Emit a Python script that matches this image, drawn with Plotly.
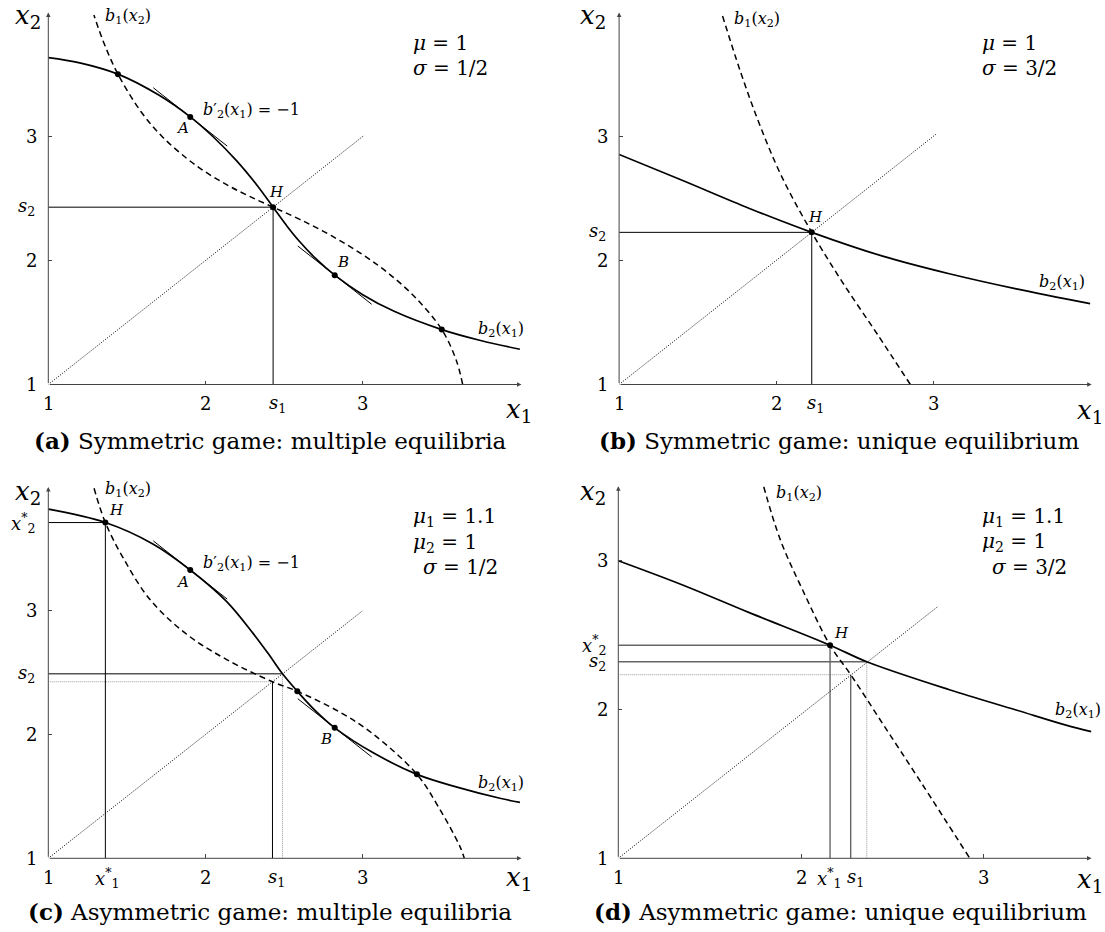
import plotly.graph_objects as go

W, H = 1105, 932
FONT = "DejaVu Serif"

# ---------------- values ----------------
# (a) Symmetric game, multiple equilibria  (mu = 1, sigma = 1/2)
a_b2_x1 = [1.0, 1.2, 1.443, 1.7, 1.903, 2.05, 2.2, 2.33, 2.43, 2.52, 2.6, 2.7, 2.822, 3.0, 3.2, 3.503, 3.75, 4.0]
a_b2_x2 = [3.636, 3.594, 3.503, 3.336, 3.158, 2.996, 2.801, 2.603, 2.43, 2.275, 2.151, 2.017, 1.882, 1.724, 1.59, 1.443, 1.355, 1.284]
a_b1_x2 = [1.0, 1.2, 1.443, 1.7, 1.903, 2.05, 2.2, 2.33, 2.43, 2.52, 2.6, 2.7, 2.822, 3.0, 3.2, 3.503, 3.75, 3.98]
a_b1_x1 = [3.636, 3.594, 3.503, 3.336, 3.158, 2.996, 2.801, 2.603, 2.43, 2.275, 2.151, 2.017, 1.882, 1.724, 1.59, 1.443, 1.355, 1.29]
a_eq_x1 = [1.443, 2.43, 3.503]
a_eq_x2 = [3.503, 2.43, 1.443]
a_AB_x1 = [1.903, 2.822]
a_AB_x2 = [3.158, 1.882]
a_H = [2.43, 2.43]
a_diag = [1.0, 3.01]

# (b) Symmetric game, unique equilibrium  (mu = 1, sigma = 3/2)
b_b2_x1 = [1.0, 1.405, 1.83, 2.227, 2.679, 3.103, 3.53, 4.0]
b_b2_x2 = [2.855, 2.645, 2.42, 2.227, 2.035, 1.893, 1.771, 1.652]
b_b1_x2 = [1.0, 1.405, 1.83, 2.227, 2.679, 3.103, 3.53, 3.98]
b_b1_x1 = [2.855, 2.645, 2.42, 2.227, 2.035, 1.893, 1.771, 1.657]
b_H = [2.227, 2.227]
b_diag = [1.0, 3.02]

# (c) Asymmetric game, multiple equilibria  (mu1 = 1.1, mu2 = 1, sigma = 1/2)
c_b2_x1 = [1.0, 1.363, 1.668, 1.903, 2.135, 2.304, 2.4, 2.49, 2.584, 2.7, 2.822, 3.07, 3.345, 3.6, 3.873, 4.0]
c_b2_x2 = [3.82, 3.712, 3.537, 3.329, 3.074, 2.815, 2.652, 2.49, 2.349, 2.191, 2.054, 1.85, 1.678, 1.575, 1.485, 1.452]
c_b1_x1 = [1.291, 1.363, 1.477, 1.647, 1.88, 2.135, 2.426, 2.584, 2.856, 3.067, 3.345, 3.481, 3.619, 3.646]
c_b1_x2 = [3.989, 3.712, 3.425, 3.09, 2.81, 2.605, 2.426, 2.349, 2.18, 2.003, 1.678, 1.417, 1.094, 1.0]
c_eq_x1 = [1.363, 2.584, 3.345]
c_eq_x2 = [3.712, 2.349, 1.678]
c_AB_x1 = [1.903, 2.822]
c_AB_x2 = [3.329, 2.054]
c_H = [1.363, 3.712]
c_s1 = [2.426, 2.426]
c_s2 = [2.49, 2.49]
c_diag = [1.0, 3.0]

# (d) Asymmetric game, unique equilibrium  (mu1 = 1.1, mu2 = 1, sigma = 3/2)
d_b2_x1 = [1.0, 1.352, 1.717, 2.159, 2.36, 2.812, 3.177, 3.45, 3.589]
d_b2_x2 = [3.0, 2.837, 2.651, 2.432, 2.321, 2.133, 1.997, 1.895, 1.851]
d_b1_x1 = [1.796, 1.887, 2.009, 2.159, 2.272, 2.447, 2.657, 2.924]
d_b1_x2 = [3.497, 3.14, 2.803, 2.432, 2.234, 1.905, 1.51, 1.0]
d_H = [2.159, 2.432]
d_s1 = [2.272, 2.234]
d_s2 = [2.36, 2.321]
d_diag_x1 = [1.0, 2.748]
d_diag_x2 = [1.0, 2.691]

tick_vals = [2, 3]
tangent_slope = -1.0  # b2'(x1) = -1 at A and B

# ---------------- geometry (pixels) ----------------
geo = {
    "a": dict(xa="x", ya="y", px0=48.3, ux=157.2, py0=384.5, uy=124.0, xmax=4.01, ymax=4.0),
    "b": dict(xa="x2", ya="y2", px0=619.1, ux=157.0, py0=384.5, uy=124.0, xmax=4.01, ymax=4.0),
    "c": dict(xa="x3", ya="y3", px0=48.3, ux=157.2, py0=858.3, uy=123.8, xmax=4.01, ymax=4.0),
    "d": dict(xa="x4", ya="y4", px0=618.3, ux=182.7, py0=858.3, uy=148.8, xmax=3.59, ymax=3.5),
}

fig = go.Figure()
ann = []


def line(p, xs, ys, color="black", width=1.0, dash="solid", shape="linear"):
    g = geo[p]
    fig.add_trace(go.Scatter(x=xs, y=ys, mode="lines",
                             line=dict(color=color, width=width, dash=dash, shape=shape, smoothing=1.0),
                             xaxis=g["xa"], yaxis=g["ya"], hoverinfo="skip", showlegend=False))


def dots(p, xs, ys):
    g = geo[p]
    fig.add_trace(go.Scatter(x=xs, y=ys, mode="markers", marker=dict(color="black", size=6),
                             xaxis=g["xa"], yaxis=g["ya"], hoverinfo="skip", showlegend=False))


def txt(text, px, py, size, xanchor="center", yanchor="middle"):
    ann.append(dict(text=text, x=px / W, y=1 - py / H, xref="paper", yref="paper", showarrow=False,
                    xanchor=xanchor, yanchor=yanchor, font=dict(family=FONT, size=size, color="black")))


def xtick(p, val, text, py, size=18, shift=0):
    g = geo[p]
    ann.append(dict(text=text, x=val, xref=g["xa"], y=1 - py / H, yref="paper", showarrow=False,
                    xanchor="center", yanchor="middle", xshift=shift,
                    font=dict(family=FONT, size=size, color="black")))


def ytick(p, val, text, px, size=18):
    g = geo[p]
    ann.append(dict(text=text, y=val, yref=g["ya"], x=px / W, xref="paper", showarrow=False,
                    xanchor="right", yanchor="middle",
                    font=dict(family=FONT, size=size, color="black")))


def axes_arrows(p):
    g = geo[p]
    for (x, y) in [(g["xmax"], 1.0), (1.0, g["ymax"])]:
        ann.append(dict(x=x, y=y, ax=1.0, ay=1.0, xref=g["xa"], yref=g["ya"], axref=g["xa"], ayref=g["ya"],
                        showarrow=True, arrowhead=2, arrowsize=0.9, arrowwidth=1.0, arrowcolor="#444",
                        text="", standoff=0))


def tangent(p, x0, y0, half=0.235, width=1.0):
    line(p, [x0 - half, x0 + half], [y0 - tangent_slope * half, y0 + tangent_slope * half], width=width)


DOT = "1px,1.5px"
DASH = "6px,4px"
GUIDE_DOT = "1px,1px"

# ----- panel (a)
line("a", [1, a_H[0]], [a_H[1], a_H[1]], width=1)
line("a", [a_H[0], a_H[0]], [1, a_H[1]], width=1)
line("a", a_diag, a_diag, width=1, dash=DOT)
line("a", a_b1_x1, a_b1_x2, width=1.5, dash=DASH, shape="spline")
line("a", a_b2_x1, a_b2_x2, width=1.7, shape="spline")
for i in range(2):
    tangent("a", a_AB_x1[i], a_AB_x2[i])
dots("a", a_eq_x1 + a_AB_x1, a_eq_x2 + a_AB_x2)

# ----- panel (b)
line("b", [1, b_H[0]], [b_H[1], b_H[1]], width=1)
line("b", [b_H[0], b_H[0]], [1, b_H[1]], width=1)
line("b", b_diag, b_diag, width=1, dash=DOT)
line("b", b_b1_x1, b_b1_x2, width=1.5, dash=DASH, shape="spline")
line("b", b_b2_x1, b_b2_x2, width=1.7, shape="spline")
dots("b", [b_H[0]], [b_H[1]])

# ----- panel (c)
line("c", [1, c_s1[0]], [c_s1[1], c_s1[1]], color="#999999", width=1, dash=GUIDE_DOT)
line("c", [c_s2[0], c_s2[0]], [1, c_s2[1]], color="#999999", width=1, dash=GUIDE_DOT)
line("c", [1, c_H[0]], [c_H[1], c_H[1]], width=1)
line("c", [c_H[0], c_H[0]], [1, c_H[1]], width=1)
line("c", [1, c_s2[0]], [c_s2[1], c_s2[1]], width=1)
line("c", [c_s1[0], c_s1[0]], [1, c_s1[1]], width=1)
line("c", c_diag, c_diag, width=1, dash=DOT)
line("c", c_b1_x1, c_b1_x2, width=1.5, dash=DASH, shape="spline")
line("c", c_b2_x1, c_b2_x2, width=1.7, shape="spline")
for i in range(2):
    tangent("c", c_AB_x1[i], c_AB_x2[i])
dots("c", c_eq_x1 + c_AB_x1, c_eq_x2 + c_AB_x2)

# ----- panel (d)
line("d", [1, d_s1[0]], [d_s1[1], d_s1[1]], color="#999999", width=1, dash=GUIDE_DOT)
line("d", [d_s2[0], d_s2[0]], [1, d_s2[1]], color="#999999", width=1, dash=GUIDE_DOT)
line("d", [1, d_H[0]], [d_H[1], d_H[1]], color="#666666", width=1.4)
line("d", [d_H[0], d_H[0]], [1, d_H[1]], color="#666666", width=1.4)
line("d", [1, d_s2[0]], [d_s2[1], d_s2[1]], color="#666666", width=1.4)
line("d", [d_s1[0], d_s1[0]], [1, d_s1[1]], color="#666666", width=1.4)
line("d", d_diag_x1, d_diag_x2, width=1, dash=DOT)
line("d", d_b1_x1, d_b1_x2, width=1.5, dash=DASH, shape="spline")
line("d", d_b2_x1, d_b2_x2, width=1.7, shape="spline")
dots("d", [d_H[0]], [d_H[1]])

for p in "abcd":
    axes_arrows(p)

# ----- tick labels
S1 = "<i>s</i><sub>1</sub>"
S2 = "<i>s</i><sub>2</sub>"
X1S = "<i>x</i><sup>*</sup><sub>1</sub>"
X2S = "<i>x</i><sup>*</sup><sub>2</sub>"

for p in ("a", "b"):
    for v in tick_vals:
        xtick(p, v, str(v), 403)
    xtick(p, 1, "1", 403)
xtick("a", a_H[0], S1, 404, shift=4)
xtick("b", b_H[0], S1, 404, shift=4)
for p in ("c", "d"):
    for v in tick_vals:
        xtick(p, v, str(v), 877)
    xtick(p, 1, "1", 877)
xtick("c", c_H[0], X1S, 878, shift=2)
xtick("c", c_s1[0], S1, 878, shift=4)
xtick("d", d_H[0], X1S, 878, shift=-1)
xtick("d", d_s1[0], S1, 878, shift=5)

for p, ax in (("a", 39), ("b", 610), ("c", 39), ("d", 610)):
    for v in [1] + tick_vals:
        ytick(p, v, str(v), ax)
ytick("a", a_H[1], S2, 37)
ytick("b", b_H[1], S2, 608)
ytick("c", c_H[1], X2S, 37)
ytick("c", c_s2[1], S2, 37)
ytick("d", d_H[1], X2S, 608)
ytick("d", d_s2[1], S2, 608)

# ----- axis titles
AX = 26
for (cx, ty, bx, by) in ((28, 16, 519, 410), (593, 16, 1090, 411), (28, 492, 519, 878), (593, 492, 1090, 880)):
    txt("<i>x</i><sub>2</sub>", cx, ty, AX)
    txt("<i>x</i><sub>1</sub>", bx, by, AX)

# ----- small curve labels
SM = 16
LB = 15
B1 = "<i>b</i><sub>1</sub>(<i>x</i><sub>2</sub>)"
B2 = "<i>b</i><sub>2</sub>(<i>x</i><sub>1</sub>)"
BP = "<i>b</i>′<sub>2</sub>(<i>x</i><sub>1</sub>) = −1"
txt(B1, 103, 16, SM, xanchor="left")
txt(B2, 476, 329, SM, xanchor="left")
txt(BP, 201, 110, SM, xanchor="left")
txt("<i>A</i>", 182, 128, LB)
txt("<i>B</i>", 343, 262, LB)
txt("<i>H</i>", 276, 192, LB)

txt(B1, 732, 19, SM, xanchor="left")
txt(B2, 1037, 282, SM, xanchor="left")
txt("<i>H</i>", 815, 217, LB)

txt(B1, 103, 490, SM, xanchor="left")
txt(B2, 476, 783, SM, xanchor="left")
txt(BP, 201, 563, SM, xanchor="left")
txt("<i>A</i>", 182, 582, LB)
txt("<i>B</i>", 326, 739, LB)
txt("<i>H</i>", 116, 510, LB)

txt(B1, 774, 493, SM, xanchor="left")
txt(B2, 1103, 710, SM, xanchor="right")
txt("<i>H</i>", 841, 633, LB)

# ----- parameter boxes
PS = 20
txt("<i>μ</i> = 1", 411, 43, PS, xanchor="left")
txt("<i>σ</i> = 1/2", 411, 68, PS, xanchor="left")
txt("<i>μ</i> = 1", 980, 43, PS, xanchor="left")
txt("<i>σ</i> = 3/2", 980, 68, PS, xanchor="left")
txt("<i>μ</i><sub>1</sub> = 1.1", 411, 517, PS, xanchor="left")
txt("<i>μ</i><sub>2</sub> = 1", 411, 543, PS, xanchor="left")
txt("<i>σ</i> = 1/2", 421, 567, PS, xanchor="left")
txt("<i>μ</i><sub>1</sub> = 1.1", 980, 517, PS, xanchor="left")
txt("<i>μ</i><sub>2</sub> = 1", 980, 542, PS, xanchor="left")
txt("<i>σ</i> = 3/2", 990, 567, PS, xanchor="left")

# ----- captions
CS = 23
txt("<b>(a)</b> Symmetric game: multiple equilibria", 270, 440, CS)
txt("<b>(b)</b> Symmetric game: unique equilibrium", 839, 440, CS)
txt("<b>(c)</b> Asymmetric game: multiple equilibria", 270, 911, CS)
txt("<b>(d)</b> Asymmetric game: unique equilibrium", 840, 911, CS)

# ----- axes layout
layout_axes = {}
for p, g in geo.items():
    x_end = g["px0"] + g["ux"] * (g["xmax"] - 1)
    y_top = g["py0"] - g["uy"] * (g["ymax"] - 1)
    xkey = "xaxis" + g["xa"][1:]
    ykey = "yaxis" + g["ya"][1:]
    common = dict(showgrid=False, zeroline=False, showline=False, ticks="inside", ticklen=4, tickwidth=1,
                  tickcolor="#444", tickvals=tick_vals, showticklabels=False, fixedrange=True)
    layout_axes[xkey] = dict(domain=[g["px0"] / W, x_end / W], range=[1, g["xmax"]], anchor=g["ya"], **common)
    layout_axes[ykey] = dict(domain=[(H - g["py0"]) / H, (H - y_top) / H], range=[1, g["ymax"]],
                             anchor=g["xa"], **common)

fig.update_layout(width=W, height=H, margin=dict(l=0, r=0, t=0, b=0), plot_bgcolor="white",
                  paper_bgcolor="white", showlegend=False, annotations=ann, hovermode=False, **layout_axes)

fig.write_html("out.html", config={"displayModeBar": False, "staticPlot": True},
               post_script="document.body.style.margin='0px';document.body.style.overflow='hidden';")
